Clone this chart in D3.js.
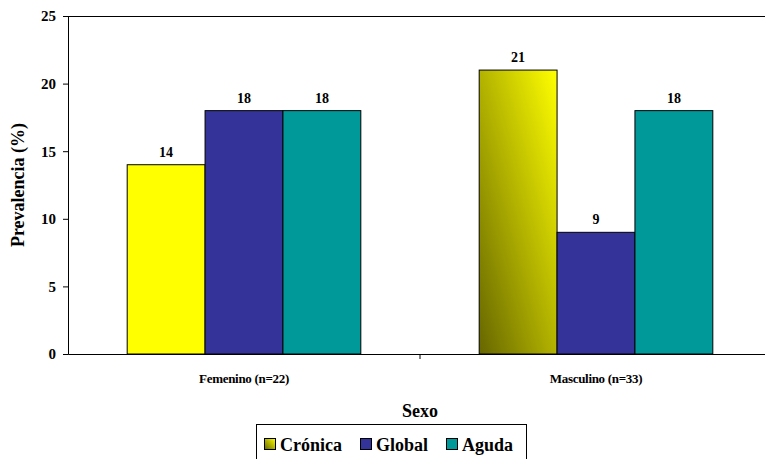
<!DOCTYPE html>
<html><head><meta charset="utf-8">
<script src="https://cdn.jsdelivr.net/npm/d3@7"></script>
<style>body{margin:0;background:#fff}svg{display:block}</style>
</head><body><svg id="c" width="765" height="459"></svg>
<script>
const categories = ["Femenino (n=22)", "Masculino (n=33)"];
const seriesNames = ["Crónica", "Global", "Aguda"];
const cronica = [14, 21];
const globalVals = [18, 9];
const aguda = [18, 18];
const yTicks = [0, 5, 10, 15, 20, 25];
const seriesValues = [cronica, globalVals, aguda];

(function(){
const FF = '"Liberation Serif"';
function tstyle(sel, size){ return sel.style("font-family",FF).style("font-weight","bold").style("font-size",size+"px").attr("fill","#000"); }
const svg = d3.select("#c");
const defs = svg.append("defs");
const g1 = defs.append("linearGradient").attr("id","gradC").attr("x1",0).attr("y1",1).attr("x2",1).attr("y2",0);
g1.append("stop").attr("offset","0%").attr("stop-color","#666600");
g1.append("stop").attr("offset","100%").attr("stop-color","#ffff00");

const pL = 68, pR = 772, pT = 16, pB = 354;
const x0 = d3.scaleBand().domain(categories).range([pL, pR]).paddingInner(0).paddingOuter(0);
const x1 = d3.scaleBand().domain(seriesNames).range([0, x0.bandwidth()]).paddingOuter(0.76).paddingInner(0);
const y = d3.scaleLinear().domain([0, 25]).range([pB, pT]);
const fills = {"Global":"#333399","Aguda":"#009999"};
function fillFor(s, i){ if(s==="Crónica") return i===1 ? "url(#gradC)" : "#ffff00"; return fills[s]; }

svg.append("line").attr("x1",pL).attr("x2",pR).attr("y1",pT+0.5).attr("y2",pT+0.5).attr("stroke","#000");

categories.forEach((c, ci) => {
  seriesNames.forEach((s, si) => {
    const v = seriesValues[si][ci];
    const xx = x0(c) + x1(s);
    svg.append("rect").attr("x", xx).attr("y", y(v)).attr("width", x1.bandwidth()).attr("height", y(0)-y(v))
      .attr("fill", fillFor(s, ci)).attr("stroke","#000").attr("stroke-width",1);
    tstyle(svg.append("text").attr("x", xx + x1.bandwidth()/2).attr("y", y(v)-8).attr("text-anchor","middle"), 14).text(v);
  });
});

const ya = svg.append("g").attr("transform",`translate(${pL},0)`)
  .call(d3.axisLeft(y).tickValues(yTicks).tickSize(5).tickPadding(7));
ya.select(".domain").attr("stroke","#000");
tstyle(ya.selectAll("text"), 15);

const xa = svg.append("g").attr("transform",`translate(0,${pB})`)
  .call(d3.axisBottom(x0).tickSize(0).tickPadding(20));
xa.select(".domain").attr("stroke","#000");
tstyle(xa.selectAll("text"), 13).style("letter-spacing","-0.3px");
svg.append("line").attr("x1", x0(categories[1])).attr("x2", x0(categories[1])).attr("y1",pB).attr("y2",pB+5).attr("stroke","#000");

tstyle(svg.append("text").attr("x",420).attr("y",417).attr("text-anchor","middle"), 18).text("Sexo");
tstyle(svg.append("text").attr("transform","translate(24,185) rotate(-90)").attr("text-anchor","middle"), 18).text("Prevalencia (%)");

const lg = svg.append("g");
lg.append("rect").attr("x",256.5).attr("y",424.5).attr("width",270).attr("height",50).attr("fill","#fff").attr("stroke","#000");
const lx = [264, 360, 446];
seriesNames.forEach((s, i) => {
  lg.append("rect").attr("x", lx[i]+0.5).attr("y", 438.5).attr("width", 11).attr("height", 11)
    .attr("fill", s==="Crónica" ? "url(#gradC)" : fills[s]).attr("stroke","#000");
  tstyle(lg.append("text").attr("x", lx[i]+16).attr("y", 451), 18).text(s);
});
})();
</script></body></html>
